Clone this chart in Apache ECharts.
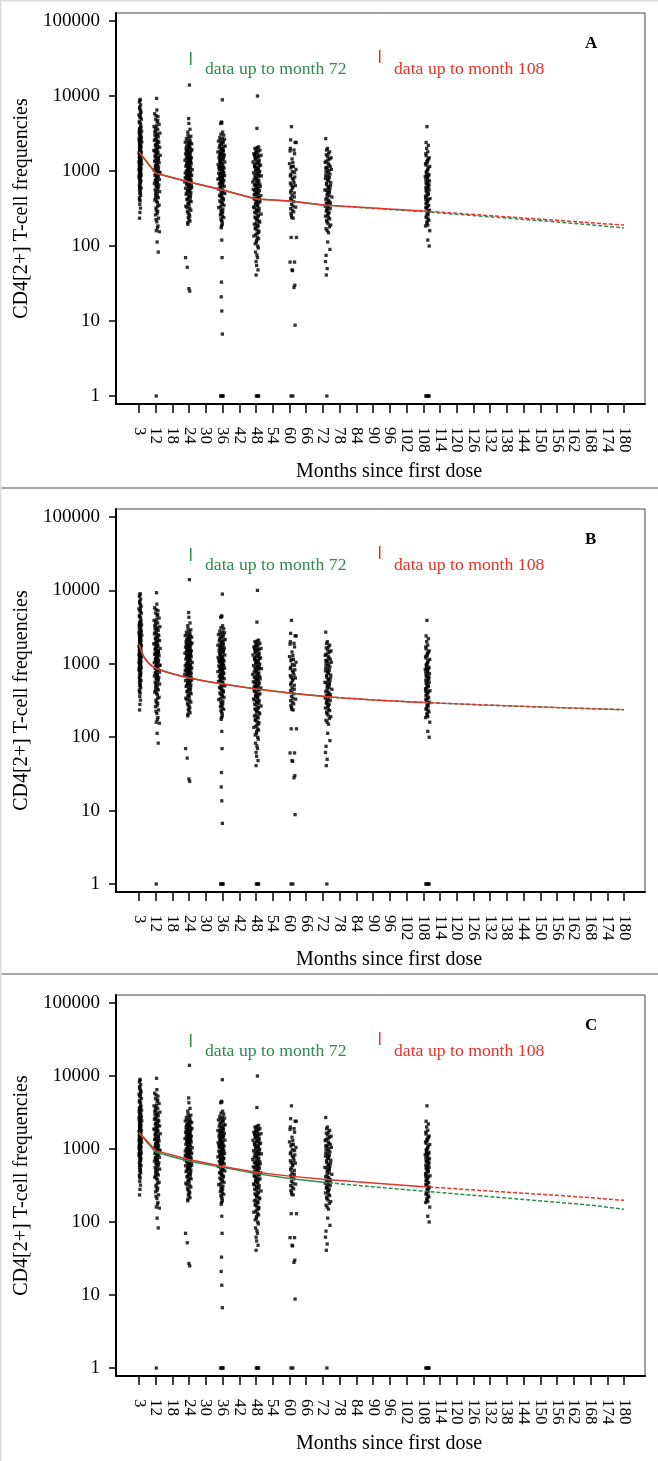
<!DOCTYPE html>
<html>
<head>
<meta charset="utf-8">
<script src="https://cdn.jsdelivr.net/npm/echarts@6/dist/echarts.min.js"></script>
<style>
html,body{margin:0;padding:0;background:#fff;}
#chart{width:658px;height:1461px;}
</style>
</head>
<body>
<div id="chart"></div>
<script>
// ---------- DATA ----------
const tickMonths = [3,12,18,24,30,36,42,48,54,60,66,72,78,84,90,96,102,108,114,120,126,132,138,144,150,156,162,168,174,180];
const yTicks = [1,10,100,1000,10000,100000];

// observed CD4[2+] frequencies: [month of visit, frequency]
const obsM3 = [[3.6,9000],[3.2,8300],[3.9,7600],[3.4,6800],[4.1,6100],[3.0,5600],[3.7,5200],[4.3,4900],[3.3,4600],[3.8,4300],[2.9,4050],[4.0,3800],[3.5,3600],[4.4,3400],[3.1,3250],[3.9,3100],[3.6,2950],[4.2,2800],[3.0,2680],[3.7,2560],[4.5,2450],[3.3,2350],[3.9,2250],[3.5,2160],[4.1,2080],[2.9,2000],[3.8,1930],[3.4,1860],[4.3,1790],[3.1,1720],[3.6,1660],[4.0,1600],[3.3,1540],[3.9,1490],[3.5,1430],[4.2,1380],[3.0,1330],[3.7,1280],[4.4,1240],[3.2,1190],[3.8,1150],[3.5,1110],[4.1,1070],[3.0,1030],[3.6,990],[3.9,950],[3.3,910],[4.2,880],[3.7,840],[3.1,810],[3.5,780],[4.0,750],[3.4,720],[3.8,690],[3.2,650],[3.6,620],[4.1,590],[3.3,560],[3.7,530],[3.5,500],[3.9,470],[3.2,440],[3.6,400],[3.4,360],[3.8,320],[3.5,280],[3.3,235],[3.7,1720],[3.4,2100],[4.0,2700],[3.2,3500],[3.6,1200],[3.9,1450],[3.1,860],[3.8,5800],
  [3.5,8700],[3.3,7100],[3.7,6400],[3.5,5300],[3.2,4400],[3.9,3950],[3.4,3700],[3.6,3350],[3.3,3000],[3.8,2850],[3.5,2620],[3.2,2480],[3.6,2300],[3.4,2200],[3.7,2040],[3.3,1960],[3.6,1820],[3.2,1750],[3.8,1690],[3.4,1620],[3.7,1560],[3.2,1510],[3.6,1460],[3.4,1400],[3.8,1350],[3.3,1300],[3.6,1250],[3.4,1170],[3.7,1120],[3.2,1090],[3.5,1040],[3.8,1000],[3.4,960],[3.6,920],[3.3,850],[3.5,820],[3.7,700],[3.4,600],[3.6,510],[3.3,415]];
const obsM12 = [[12.3,9300],[11.4,5800],[12.8,5300],[11.9,4900],[12.5,4500],[13.2,4200],[11.1,3900],[12.7,3600],[12.0,3400],[13.5,3200],[11.6,3000],[12.9,2850],[12.2,2700],[11.3,2550],[13.1,2420],[12.6,2300],[11.8,2180],[13.4,2070],[12.1,1970],[11.0,1880],[12.8,1790],[12.4,1700],[13.6,1620],[11.7,1550],[12.9,1480],[12.2,1410],[11.4,1350],[13.2,1290],[12.6,1230],[11.9,1180],[13.0,1130],[12.3,1080],[11.2,1030],[12.7,990],[13.5,950],[12.0,910],[11.6,870],[12.9,840],[12.4,800],[13.3,770],[11.8,740],[12.6,710],[11.3,680],[13.1,650],[12.2,620],[12.8,590],[11.7,560],[13.4,530],[12.5,500],[12.0,470],[12.9,440],[11.5,410],[12.6,380],[13.2,350],[12.1,320],[12.7,290],[11.9,260],[13.0,235],[12.4,210],[12.8,185],[12.2,160],[13.3,155],[12.5,113],[12.9,83],[12.2,1],[12.6,2000],[11.8,1600],[13.0,1400],[12.1,1150],[12.8,2500],[11.5,3300],[13.4,960],[12.3,720],[11.9,430],
  [12.4,6500],[12.1,5500],[12.7,4700],[12.3,4000],[11.9,3700],[12.6,3100],[12.3,2950],[11.7,2650],[12.5,2400],[12.0,2250],[12.8,2120],[12.3,1920],[11.6,1830],[12.6,1740],[12.1,1660],[12.9,1520],[12.4,1450],[11.9,1380],[12.7,1320],[12.2,1250],[12.5,1200],[11.8,1100],[12.9,1060],[12.4,1010],[12.1,930],[12.7,890],[12.3,820],[11.9,760],[12.6,690],[12.2,640],[12.8,610],[12.4,545],[12.0,510],[12.6,455],[12.3,395],[12.7,340],[12.2,300],[12.5,270],[12.1,225],[12.6,175]];
const obsM24 = [[24.1,14000],[23.8,5000],[23.5,3300],[24.6,2900],[23.0,2700],[24.3,2550],[22.6,2420],[24.9,2300],[23.6,2200],[24.2,2100],[22.9,2000],[25.0,1920],[23.4,1840],[24.5,1760],[22.7,1690],[24.0,1620],[23.2,1560],[24.8,1500],[23.7,1440],[22.5,1390],[24.4,1340],[23.1,1290],[24.7,1240],[23.9,1200],[22.8,1160],[24.2,1120],[23.5,1080],[25.1,1040],[23.0,1000],[24.5,970],[22.6,940],[23.8,910],[24.9,880],[23.3,850],[24.1,820],[22.9,790],[24.6,765],[23.6,740],[22.4,715],[24.3,690],[23.1,665],[24.8,640],[23.7,615],[22.7,590],[24.0,565],[23.4,540],[24.6,515],[22.9,490],[23.9,465],[24.4,440],[23.2,415],[24.7,390],[23.6,365],[22.8,340],[24.2,315],[23.4,290],[24.0,265],[23.7,240],[24.3,215],[23.5,195],[22.7,70],[23.3,52],[23.9,27],[24.2,25],[23.0,1850],[24.4,1450],[23.8,1050],[22.6,820],[24.9,600],[23.3,700],[24.1,2400],[23.7,1300],
  [23.9,4300],[24.3,3600],[23.6,3000],[24.0,2750],[23.3,2480],[24.5,2350],[23.8,2250],[23.1,2150],[24.2,2040],[23.6,1960],[24.6,1880],[23.4,1800],[24.0,1720],[23.2,1650],[24.4,1590],[23.8,1520],[23.0,1470],[24.3,1410],[23.5,1360],[24.6,1310],[23.9,1270],[23.2,1220],[24.1,1180],[23.6,1140],[24.5,1100],[23.3,1020],[24.0,990],[23.7,950],[24.3,925],[23.1,895],[24.6,860],[23.8,835],[23.4,805],[24.2,775],[23.6,750],[24.7,725],[23.3,680],[24.0,650],[23.8,625],[24.4,580],[23.5,555],[24.1,525],[23.2,505],[24.5,475],[23.9,450],[23.4,425],[24.3,400],[23.7,375],[24.0,350],[23.2,325],[24.6,300],[23.6,275],[24.2,250],[23.9,228],[23.5,205]];
const obsM36 = [[35.9,8900],[35.6,4500],[35.3,4300],[36.4,3000],[35.0,2800],[36.7,2650],[34.5,2500],[36.1,2380],[35.4,2260],[36.9,2150],[34.8,2050],[35.8,1960],[36.3,1870],[34.3,1790],[35.2,1710],[36.6,1640],[35.6,1570],[34.7,1500],[36.2,1440],[35.0,1380],[36.8,1320],[35.5,1270],[34.4,1220],[36.0,1170],[35.2,1130],[36.5,1090],[34.9,1050],[35.7,1010],[36.2,970],[34.6,935],[35.4,900],[36.7,870],[35.0,840],[35.9,810],[34.3,780],[36.4,750],[35.3,725],[36.0,700],[34.8,675],[35.6,650],[36.6,625],[35.1,600],[34.5,575],[36.1,550],[35.4,525],[36.8,500],[34.9,475],[35.7,450],[36.3,425],[35.0,400],[35.8,375],[36.5,350],[34.6,325],[35.4,300],[36.0,280],[35.2,260],[36.4,240],[35.6,220],[35.9,195],[35.5,175],[35.7,120],[35.8,70],[35.6,33],[35.5,21],[35.7,13.6],[35.9,6.7],[35.3,1],[35.6,1],[35.9,1],[36.2,1],[35.1,1350],[36.3,1550],[34.7,1100],[35.8,860],[36.0,1900],[35.3,620],
  [35.7,4400],[36.0,3300],[35.4,3100],[35.9,2700],[35.2,2560],[36.2,2450],[35.6,2320],[35.0,2200],[36.4,2100],[35.5,2010],[35.9,1930],[35.1,1830],[36.1,1750],[35.6,1680],[34.9,1610],[36.3,1520],[35.4,1470],[35.8,1410],[35.2,1300],[36.0,1250],[35.6,1200],[34.8,1150],[36.2,1120],[35.3,1070],[35.9,1030],[35.5,990],[36.4,950],[35.1,915],[35.7,885],[36.1,855],[35.4,825],[35.0,795],[35.8,765],[36.3,740],[35.5,710],[35.2,690],[36.0,660],[35.7,635],[35.3,590],[35.9,560],[36.1,515],[35.6,490],[35.2,460],[35.8,435],[36.2,410],[35.4,385],[35.9,360],[35.3,335],[36.1,310],[35.7,290],[35.5,270],[35.9,250],[35.4,230],[35.8,210],[35.6,185]];
const obsM48 = [[48.5,10000],[48.3,3700],[48.9,2100],[47.6,2000],[49.4,1900],[48.1,1800],[47.2,1700],[49.8,1620],[48.6,1540],[47.8,1460],[49.1,1390],[46.9,1320],[48.3,1260],[49.6,1200],[47.5,1140],[48.8,1090],[48.0,1040],[49.3,990],[47.1,945],[48.5,900],[49.9,860],[47.7,820],[48.2,785],[49.0,750],[46.8,715],[48.7,685],[47.4,655],[49.5,625],[48.1,595],[47.0,570],[49.2,545],[48.4,520],[47.6,495],[49.7,470],[48.9,450],[47.3,430],[48.0,410],[49.4,390],[47.8,370],[48.6,350],[47.1,332],[49.1,315],[48.3,298],[47.5,282],[49.8,266],[48.8,250],[47.9,236],[48.2,222],[49.3,208],[47.4,195],[48.7,183],[47.7,170],[49.0,158],[48.4,147],[47.2,136],[48.9,125],[48.1,113],[48.6,100],[47.8,83],[48.5,70],[48.2,55],[48.7,48],[48.0,41],[48.1,1],[48.4,1],[48.7,1],[48.9,1],[47.6,1150],[49.2,880],[48.4,640],[47.3,480],[49.0,1250],[48.0,560],[47.5,1580],
  [48.4,2050],[48.0,1950],[48.8,1850],[47.9,1760],[48.6,1680],[47.5,1640],[49.0,1560],[48.2,1500],[47.7,1420],[48.9,1350],[48.3,1300],[47.4,1220],[49.2,1180],[48.1,1110],[48.7,1060],[47.8,1010],[49.0,970],[48.3,925],[47.6,880],[48.9,845],[48.1,800],[47.3,770],[48.6,735],[48.0,700],[49.3,670],[47.7,640],[48.5,610],[48.9,580],[47.5,550],[48.2,530],[48.8,505],[47.9,485],[48.4,460],[49.1,440],[47.6,420],[48.3,400],[48.9,380],[47.9,360],[48.5,340],[47.4,322],[48.2,305],[49.0,290],[48.0,274],[48.7,258],[47.6,243],[48.4,229],[49.1,215],[48.0,201],[48.6,189],[47.8,176],[48.3,164],[48.9,152],[47.9,141],[48.5,130],[48.2,119],[47.7,107],[48.8,94],[48.3,76],[48.0,62]];
const obsM60 = [[60.7,3900],[60.4,2600],[62.0,2400],[61.6,1900],[60.2,1850],[61.2,1300],[60.8,1150],[62.3,1050],[61.0,980],[60.5,900],[61.9,830],[61.4,760],[60.3,690],[62.1,640],[61.1,590],[60.6,550],[61.7,510],[60.9,470],[60.4,430],[61.5,390],[60.7,360],[62.2,330],[61.0,300],[60.5,270],[60.8,240],[61.3,235],[60.6,130],[62.5,130],[60.2,61],[61.8,61],[60.9,48],[61.1,47],[61.9,30],[61.6,28],[62.0,8.8],[60.5,1],[61.2,1],[62.4,2400],[60.0,1250],
  [60.3,2000],[61.8,1700],[60.9,1450],[61.4,1150],[60.5,1100],[61.8,950],[60.3,860],[61.0,800],[61.6,700],[60.6,650],[61.2,620],[60.4,520],[61.7,450],[60.8,410],[61.2,340],[60.4,315],[61.5,285],[60.7,255]];
const obsM72 = [[73.0,2700],[73.6,2000],[74.4,1800],[73.2,1650],[74.9,1500],[73.8,1400],[72.8,1300],[74.2,1200],[73.4,1120],[75.0,1050],[73.1,980],[74.5,910],[73.7,850],[72.9,800],[74.0,740],[73.3,690],[74.7,640],[73.9,600],[72.7,560],[74.3,520],[73.5,485],[75.2,450],[73.0,420],[74.1,390],[73.6,365],[72.8,340],[74.6,315],[73.2,290],[73.9,270],[72.9,250],[74.4,230],[73.4,210],[74.8,190],[73.1,170],[74.0,150],[73.7,113],[74.5,90],[73.1,75],[72.9,62],[73.5,50],[73.2,41],[73.4,1],[73.8,760],[74.2,540],[73.0,1100],[74.6,380],[73.5,300],
  [73.3,1900],[74.0,1700],[73.6,1560],[74.4,1450],[73.1,1350],[73.9,1250],[74.6,1150],[73.4,1080],[74.1,1010],[73.8,940],[73.0,880],[74.3,820],[73.6,775],[74.8,700],[73.3,660],[73.9,620],[74.5,580],[73.2,550],[73.7,505],[74.2,470],[73.5,440],[74.0,405],[73.2,375],[74.6,355],[73.8,330],[73.4,310],[74.2,280],[73.7,260],[74.0,240],[73.3,220],[73.8,200],[74.3,180],[73.5,160]];
const obsM108 = [[109.3,3900],[109.0,2400],[109.8,2200],[108.9,1700],[110.1,1500],[109.4,1300],[108.8,1250],[110.3,1150],[109.6,1050],[109.1,980],[110.0,900],[108.7,840],[109.5,790],[110.2,740],[109.0,690],[109.7,640],[108.9,600],[110.1,560],[109.3,525],[109.8,490],[108.8,460],[110.4,430],[109.5,400],[109.1,375],[109.9,350],[108.9,325],[110.2,300],[109.4,280],[109.7,260],[109.0,240],[110.0,220],[109.3,200],[108.8,185],[110.3,160],[109.6,120],[110.1,100],[108.9,1],[109.2,1],[109.5,1],[109.8,1],[110.1,1],[109.6,1400],[109.2,870],[110.0,660],[108.9,420],
  [109.2,2000],[109.6,1800],[109.0,1600],[109.8,1450],[109.3,1350],[109.0,1200],[109.7,1100],[109.4,1000],[109.1,940],[109.9,860],[109.4,820],[108.9,760],[109.6,720],[109.2,670],[109.9,620],[109.4,580],[109.0,545],[109.7,510],[109.3,475],[109.0,445],[109.8,415],[109.4,390],[109.0,365],[109.6,340],[109.2,315],[109.9,290],[109.5,270],[109.1,250],[109.7,230],[109.3,210],[109.6,190]];

// fitted curves
const curveMonthsA = [3,12,24,36,48,60,72,84,96,108,120,132,144,156,168,180];
const fitA_108 = [1790,935,713,558,423,398,352,331,311,293,273,254,236,220,204,190];
const fitA_72  = [1790,935,713,558,423,398,352,329,307,287,265,245,226,209,192,174];

const curveMonthsB = [3,4,5,6,8,10,12,15,18,21,24,30,36,42,48,54,60,66,72,78,84,90,96,102,108,114,120,126,132,138,144,150,156,162,168,174,180];
const fitB_108 = [1850,1550,1350,1200,1030,930,870,790,730,680,640,580,530,490,455,425,400,378,360,345,333,322,313,305,298,291,285,279,273,268,263,258,253,249,245,241,237];
const fitB_72  = [1850,1550,1350,1200,1030,930,870,790,730,680,640,580,530,490,455,425,400,378,360,345,333,322,313,305,298,291,285,279,273,268,263,258,253,249,245,241,237];

const curveMonthsC = [3,12,24,36,48,60,72,84,96,108,120,132,144,156,168,180];
const fitC_108 = [1700,950,720,575,480,425,385,355,330,305,285,265,248,232,215,198];
const fitC_72  = [1650,900,680,560,460,395,350,318,290,265,242,222,203,186,170,150];

// ---------- LAYOUT ----------
const FONT = "'Liberation Serif','DejaVu Serif',serif";
const GREEN = '#2f8a4e', RED = '#e3342b';
const layout = [
  {letter:'A', boxTop:13,  boxBottom:404,  yTop:21,   yBottom:396,  months:curveMonthsA, g:fitA_72, r:fitA_108},
  {letter:'B', boxTop:509, boxBottom:892,  yTop:517,  yBottom:884,  months:curveMonthsB, g:fitB_72, r:fitB_108},
  {letter:'C', boxTop:995, boxBottom:1376, yTop:1003, yBottom:1368, months:curveMonthsC, g:fitC_72, r:fitC_108}
];
const BOX_L = 116, BOX_R = 645, DATA_L = 139, DATA_R = 624;

// piecewise-linear month -> axis position (ticks equally spaced)
function pos(m){
  const t = tickMonths;
  if (m <= t[0]) return (m - t[0])/(t[1]-t[0]);
  for (let i=0;i<t.length-1;i++){
    if (m <= t[i+1]) return i + (m - t[i])/(t[i+1]-t[i]);
  }
  const n = t.length-1;
  return n + (m - t[n])/(t[n]-t[n-1]);
}

const allObs = [].concat(obsM3,obsM12,obsM24,obsM36,obsM48,obsM60,obsM72,obsM108);
const scatterData = allObs.map(d => [pos(d[0]), d[1]]);

const grid=[], xAxis=[], yAxis=[], series=[], graphic=[];
layout.forEach((p,k)=>{
  const gb = 2*k, gd = 2*k+1;
  grid.push({left:BOX_L, top:p.boxTop, width:BOX_R-BOX_L, height:p.boxBottom-p.boxTop,
    show:true, borderColor:'#444', borderWidth:1, backgroundColor:'transparent', outerBoundsMode:'none', containLabel:false});
  grid.push({left:DATA_L, top:p.yTop, width:DATA_R-DATA_L, height:p.yBottom-p.yTop, outerBoundsMode:'none', containLabel:false});
  // frame axes
  xAxis.push({gridIndex:gb, type:'value', position:'bottom', min:0, max:1, axisLine:{show:true,onZero:false,lineStyle:{color:'#000',width:2}},
    axisTick:{show:false}, axisLabel:{show:false}, splitLine:{show:false}});
  yAxis.push({gridIndex:gb, type:'value', position:'left', min:0, max:1, axisLine:{show:true,onZero:false,lineStyle:{color:'#000',width:2}},
    axisTick:{show:false}, axisLabel:{show:false}, splitLine:{show:false}});
  // data x axis (value, hidden; positions = tick index)
  xAxis.push({gridIndex:gd, type:'value', position:'top', min:0, max:tickMonths.length-1, interval:1, show:false,
    splitLine:{show:false}});
  // visible tick/label axis (category, same spacing)
  xAxis.push({gridIndex:gd, type:'category', position:'bottom', boundaryGap:false, data:tickMonths.map(String),
    offset:p.boxBottom-p.yBottom,
    axisLine:{show:true,onZero:false,lineStyle:{color:'#000',width:2}},
    axisTick:{show:true,interval:0,length:9,lineStyle:{color:'#000',width:1.5}},
    axisLabel:{interval:0, rotate:-90, margin:23, color:'#000', fontFamily:FONT, fontSize:17},
    splitLine:{show:false},
    name:'Months since first dose', nameLocation:'middle', nameGap:58,
    nameTextStyle:{color:'#000', fontFamily:FONT, fontSize:20, padding:[0,0,0,15]}});
  yAxis.push({gridIndex:gd, type:'log', position:'left', logBase:10, min:yTicks[0], max:yTicks[yTicks.length-1],
    offset:DATA_L-BOX_L,
    axisLine:{show:true,onZero:false,lineStyle:{color:'#000',width:2}},
    axisTick:{show:true,length:7,lineStyle:{color:'#000',width:1.5}},
    axisLabel:{margin:16, color:'#000', fontFamily:FONT, fontSize:19, showMinLabel:true, showMaxLabel:true,
      formatter:v=>String(Math.round(v))},
    splitLine:{show:false},
    name:'CD4[2+] T-cell frequencies', nameLocation:'middle', nameGap:83,
    nameTextStyle:{color:'#000', fontFamily:FONT, fontSize:20}});
  const xi = 3*k+1; // value x-axis index for this panel
  series.push({type:'scatter', xAxisIndex:xi, yAxisIndex:gd, symbol:'rect', symbolSize:3.3,
    itemStyle:{color:'#000'}, data:scatterData, z:2, silent:true});
  const mk = (vals, cutoff, dashed) => p.months
      .map((m,i)=>[m, vals[i]])
      .filter(d => dashed ? d[0] >= cutoff : d[0] <= cutoff)
      .map(d => [pos(d[0]), d[1]]);
  series.push({type:'line', xAxisIndex:xi, yAxisIndex:gd, showSymbol:false, symbol:'none', z:3,
    data:mk(p.g,72,false), lineStyle:{color:GREEN,width:1.5}});
  series.push({type:'line', xAxisIndex:xi, yAxisIndex:gd, showSymbol:false, symbol:'none', z:3,
    data:mk(p.g,72,true), lineStyle:{color:GREEN,width:1.5,type:[4,2]}});
  series.push({type:'line', xAxisIndex:xi, yAxisIndex:gd, showSymbol:false, symbol:'none', z:4,
    data:mk(p.r,108,false), lineStyle:{color:RED,width:1.5}});
  series.push({type:'line', xAxisIndex:xi, yAxisIndex:gd, showSymbol:false, symbol:'none', z:4,
    data:mk(p.r,108,true), lineStyle:{color:RED,width:1.5,type:[4,2]}});

  // legend-like annotations
  graphic.push({type:'rect', shape:{x:190, y:p.boxTop+39, width:1.5, height:13}, style:{fill:GREEN}});
  graphic.push({type:'text', x:205, y:p.boxTop+56, style:{text:'data up to month 72', fill:GREEN, font:'17.7px '+FONT, textVerticalAlign:'middle'}});
  graphic.push({type:'rect', shape:{x:379, y:p.boxTop+37, width:1.5, height:13}, style:{fill:RED}});
  graphic.push({type:'text', x:394, y:p.boxTop+56, style:{text:'data up to month 108', fill:RED, font:'17.7px '+FONT, textVerticalAlign:'middle'}});
  graphic.push({type:'text', x:585, y:p.boxTop+31, style:{text:p.letter, fill:'#000', font:'bold 17px '+FONT, textVerticalAlign:'middle'}});
});
// panel separators and outer frame
graphic.push({type:'rect', shape:{x:0, y:487, width:658, height:2}, style:{fill:'#aaa'}});
graphic.push({type:'rect', shape:{x:0, y:973, width:658, height:2}, style:{fill:'#aaa'}});
graphic.push({type:'rect', shape:{x:0, y:0, width:658, height:1.5}, style:{fill:'#ddd'}});
graphic.push({type:'rect', shape:{x:0, y:0, width:1.5, height:1461}, style:{fill:'#ddd'}});

const chart = echarts.init(document.getElementById('chart'), null, {renderer:'canvas'});
chart.setOption({animation:false, backgroundColor:'#fff', grid, xAxis, yAxis, series, graphic});
</script>
</body>
</html>
